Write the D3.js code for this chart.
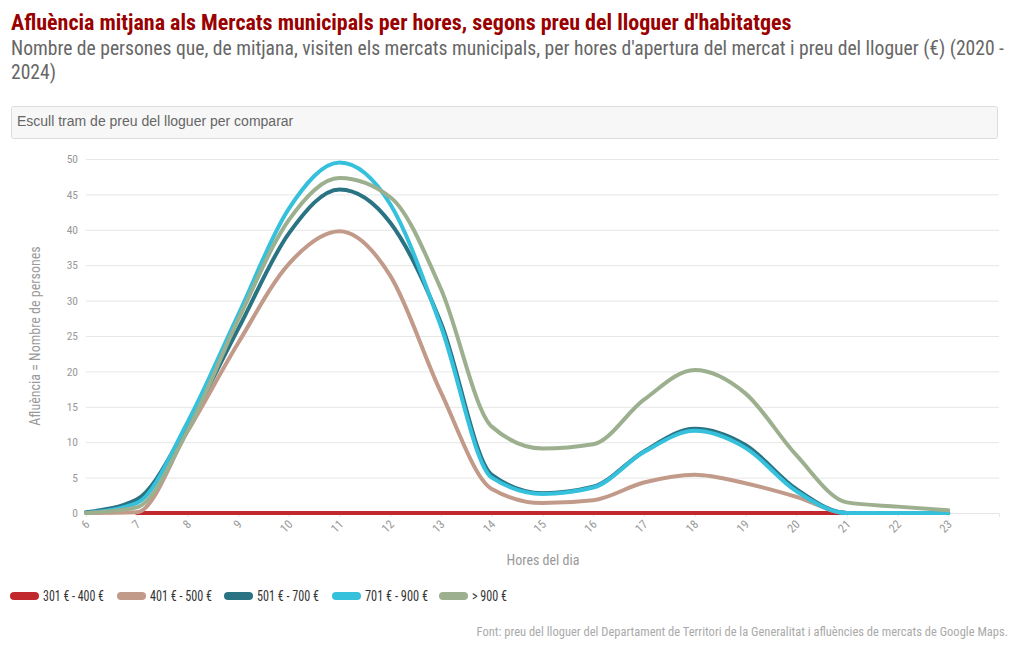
<!DOCTYPE html>
<html><head><meta charset="utf-8">
<script src="https://cdn.jsdelivr.net/npm/d3@7"></script>
<style>
body{margin:0;background:#fff;}
svg text{font-family:"Roboto Condensed","Liberation Sans Narrow","DejaVu Sans Condensed",sans-serif;}
</style></head>
<body><svg id="c" width="1020" height="650"></svg>
<script>
const hours = [6,7,8,9,10,11,12,13,14,15,16,17,18,19,20,21,22,23];
const xTicks = hours;
const yTicks = [0,5,10,15,20,25,30,35,40,45,50];
const seriesNames = ["301 € - 400 €","401 € - 500 €","501 € - 700 €","701 € - 900 €","> 900 €"];
const seriesColors = ["#c0282d","#c29a8a","#2a7383","#35c0dc","#9caf8e"];
const s301_400 = [null,0,0,0,0,0,0,0,0,0,0,0,0,0,0,0,null,null];
const s401_500 = [0,0.1,11.5,24,35.2,39.8,33.5,17,3.4,1.4,1.8,4.3,5.4,4.2,2.3,0,0,0];
const s501_700 = [0.1,1.9,12.3,26,39.5,45.7,41,26.8,5.4,2.8,3.7,8.7,11.9,9.6,3.4,0,0,0];
const s701_900 = [0,1.4,12.8,28,43,49.5,43.6,26.3,5,2.7,3.6,8.6,11.6,9.2,3.1,0,0,0];
const s900 = [0,0.8,11.6,27.3,41.4,47.3,44.6,31.6,12.2,9.1,9.7,16,20.2,16.9,8.2,1.5,0.9,0.4];
const allSeries = [s301_400,s401_500,s501_700,s701_900,s900];

const svg = d3.select("#c");
const x = d3.scaleLinear().domain([6,24]).range([86,999]);
const y = d3.scaleLinear().domain([0,50]).range([513,159]);

// title
svg.append("text").attr("x",11).attr("y",30).attr("fill","#990000")
  .attr("font-size",22).attr("font-weight","bold")
  .text("Afluència mitjana als Mercats municipals per hores, segons preu del lloguer d'habitatges");
svg.append("text").attr("x",11).attr("y",55).attr("fill","#666").attr("font-size",19.6)
  .text("Nombre de persones que, de mitjana, visiten els mercats municipals, per hores d'apertura del mercat i preu del lloguer (€) (2020 -");
svg.append("text").attr("x",11).attr("y",79).attr("fill","#666").attr("font-size",19.6).text("2024)");

// selector box
svg.append("rect").attr("x",11.5).attr("y",106.5).attr("width",986).attr("height",32)
  .attr("rx",2).attr("fill","#f7f7f7").attr("stroke","#dcdcdc");
svg.append("text").attr("x",17).attr("y",126).attr("fill","#666").attr("font-size",14)
  .style("font-family","'Liberation Sans',Arial,sans-serif")
  .text("Escull tram de preu del lloguer per comparar");

// grid
const gy = svg.append("g").attr("transform","translate(86,0)")
  .call(d3.axisLeft(y).tickValues(yTicks).tickSize(-913).tickPadding(8));
gy.select(".domain").remove();
gy.selectAll("line").attr("stroke","#e6e6e6");
gy.selectAll("text").attr("fill","#999").attr("font-size",11.5)
  .style("font-family","'Roboto Condensed','Liberation Sans Narrow',sans-serif");

const gx = svg.append("g").attr("transform","translate(0,513)")
  .call(d3.axisBottom(x).tickValues(xTicks).tickSize(4).tickFormat(d3.format("d")));
gx.select(".domain").attr("stroke","#e6e6e6");
gx.selectAll("line").attr("stroke","#e6e6e6");
gx.selectAll("text").attr("fill","#999").attr("font-size",12)
  .style("font-family","'Roboto Condensed','Liberation Sans Narrow',sans-serif")
  .attr("text-anchor","end").attr("dy",null).attr("y",0).attr("x",0)
  .attr("transform","translate(4,12) rotate(-45)");

// axis titles
svg.append("text").attr("transform","translate(40,336) rotate(-90)").attr("text-anchor","middle")
  .attr("fill","#999").attr("font-size",14).text("Afluència = Nombre de persones");
svg.append("text").attr("x",543).attr("y",565).attr("text-anchor","middle")
  .attr("fill","#999").attr("font-size",14).text("Hores del dia");

// lines
const line = d3.line().defined(d=>d[1]!==null).x(d=>x(d[0])).y(d=>y(d[1])).curve(d3.curveMonotoneX);
allSeries.forEach((s,i)=>{
  svg.append("path").datum(hours.map((h,j)=>[h,s[j]]))
    .attr("d",line).attr("fill","none").attr("stroke",seriesColors[i])
    .attr("stroke-width",4).attr("stroke-linejoin","round").attr("stroke-linecap","round");
});

// legend
const legX = [10,117,224,332,439];
const legW = [61,62,62,63,35];
seriesNames.forEach((n,i)=>{
  svg.append("rect").attr("x",legX[i]).attr("y",592).attr("width",29).attr("height",8)
    .attr("rx",4).attr("fill",seriesColors[i]);
  svg.append("text").attr("x",legX[i]+33).attr("y",601).attr("fill","#333").attr("font-size",14)
    .attr("textLength",legW[i]).attr("lengthAdjust","spacingAndGlyphs").text(n);
});

svg.append("text").attr("x",1008).attr("y",636).attr("text-anchor","end").attr("fill","#aaa")
  .attr("font-size",12.5).text("Font: preu del lloguer del Departament de Territori de la Generalitat i afluències de mercats de Google Maps.");
</script></body></html>
